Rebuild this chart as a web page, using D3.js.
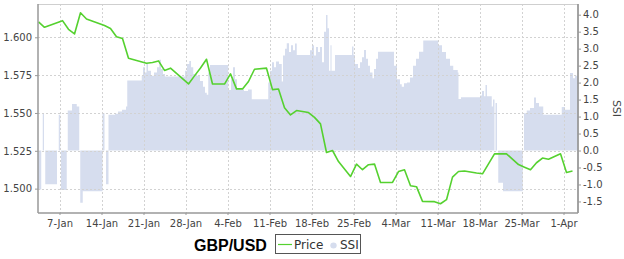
<!DOCTYPE html>
<html>
<head>
<meta charset="utf-8">
<script src="https://cdn.jsdelivr.net/npm/d3@7"></script>
<style>
  body { margin: 0; background: #fff; }
  svg { display: block; font-family: "DejaVu Sans", sans-serif; }
</style>
</head>
<body>
<div id="main"></div>
<script>
// GBP/USD daily price (value at noon UTC), 2013
const priceData = [
  ["01-03", 1.6102], ["01-04", 1.6066], ["01-07", 1.6110], ["01-08", 1.6053], ["01-09", 1.6022],
  ["01-10", 1.6162], ["01-11", 1.6121], ["01-14", 1.6078], ["01-15", 1.6058], ["01-16", 1.6004],
  ["01-17", 1.5992], ["01-18", 1.5861], ["01-21", 1.5828], ["01-22", 1.5834], ["01-23", 1.5844],
  ["01-24", 1.5781], ["01-25", 1.5796], ["01-28", 1.5692], ["01-29", 1.5745], ["01-30", 1.5797],
  ["01-31", 1.5855], ["02-01", 1.5691], ["02-03", 1.5691], ["02-04", 1.5758], ["02-05", 1.5659],
  ["02-06", 1.5659], ["02-07", 1.5708], ["02-08", 1.5789], ["02-10", 1.5796], ["02-11", 1.5654],
  ["02-12", 1.5658], ["02-13", 1.5535], ["02-14", 1.5487], ["02-15", 1.5516], ["02-17", 1.5503],
  ["02-18", 1.5471], ["02-19", 1.5428], ["02-20", 1.5239], ["02-21", 1.5252], ["02-22", 1.5179],
  ["02-24", 1.5080], ["02-25", 1.5162], ["02-26", 1.5125], ["02-27", 1.5158], ["02-28", 1.5162],
  ["03-01", 1.5041], ["03-03", 1.5041], ["03-04", 1.5113], ["03-05", 1.5125], ["03-06", 1.5019],
  ["03-07", 1.5013], ["03-08", 1.4916], ["03-10", 1.4914], ["03-11", 1.4900], ["03-12", 1.4927],
  ["03-13", 1.5076], ["03-14", 1.5113], ["03-15", 1.5117], ["03-17", 1.5103], ["03-18", 1.5098],
  ["03-19", 1.5164], ["03-20", 1.5230], ["03-21", 1.5230], ["03-22", 1.5230], ["03-24", 1.5159],
  ["03-25", 1.5142], ["03-26", 1.5125], ["03-27", 1.5171], ["03-28", 1.5202], ["03-29", 1.5194],
  ["03-31", 1.5230], ["04-01", 1.5107], ["04-02", 1.5116]
];

// SSI readings, "MM-DD HH" UTC, value held until next reading
const ssiData = [
  ["01-03 10", -1.15], ["01-03 23", 0], ["01-04 05", 1.1], ["01-04 10", 0], ["01-04 15", -0.99],
  ["01-06 14", 0], ["01-06 21", 1.05], ["01-07 03", 0], ["01-07 06", -1.16], ["01-08 05", 0],
  ["01-08 09", 1.18], ["01-09 02", 1.37], ["01-09 21", 1.3], ["01-10 07", 0], ["01-10 11", -1.54],
  ["01-10 21", -1.2], ["01-14 04", 1.1], ["01-14 12", 0], ["01-14 18", -0.99], ["01-15 04", 1.05],
  ["01-16 06", 1.08], ["01-16 18", 1.15], ["01-17 10", 1.2], ["01-18 02", 1.3], ["01-18 07", 2.06],
  ["01-20 17", 2.2], ["01-20 22", 2.45], ["01-21 06", 2.3], ["01-21 12", 2.57], ["01-21 18", 2.35],
  ["01-22 06", 2.2], ["01-22 18", 2.3], ["01-23 06", 2.45], ["01-23 15", 2.67], ["01-23 22", 2.4],
  ["01-24 06", 2.25], ["01-24 14", 2.18], ["01-27 22", 2.35], ["01-28 06", 2.55], ["01-28 15", 2.64],
  ["01-28 22", 2.45], ["01-29 07", 2.25], ["01-29 22", 2.2], ["01-30 10", 2.05], ["01-30 22", 1.88],
  ["01-31 06", 1.7], ["01-31 13", 1.64], ["01-31 19", 2.3], ["02-01 02", 2.52], ["02-04 03", 1.78],
  ["02-04 14", 2.1], ["02-04 22", 2.45], ["02-05 06", 2.1], ["02-05 14", 1.8], ["02-06 18", 1.75],
  ["02-07 10", 1.8], ["02-08 01", 1.51], ["02-10 19", 2.0], ["02-11 02", 2.35], ["02-11 10", 2.6],
  ["02-11 18", 2.45], ["02-12 02", 2.62], ["02-12 14", 2.55], ["02-13 01", 2.03], ["02-13 06", 2.8],
  ["02-13 14", 3.0], ["02-13 21", 3.16], ["02-14 06", 2.9], ["02-14 14", 3.1], ["02-14 22", 2.95],
  ["02-15 06", 3.15], ["02-15 13", 2.81], ["02-17 18", 2.95], ["02-18 02", 3.1], ["02-18 10", 2.8],
  ["02-18 18", 3.05], ["02-19 02", 2.9], ["02-19 10", 3.05], ["02-19 18", 2.6], ["02-20 02", 3.5],
  ["02-20 10", 3.99], ["02-20 16", 3.6], ["02-20 22", 2.35], ["02-21 04", 3.1], ["02-21 08", 2.35],
  ["02-21 22", 2.81], ["02-24 18", 3.06], ["02-25 00", 2.81], ["02-25 06", 2.55], ["02-25 18", 2.43],
  ["02-26 02", 2.6], ["02-26 10", 2.75], ["02-26 18", 2.96], ["02-27 02", 2.7], ["02-27 10", 2.5],
  ["02-27 18", 2.3], ["02-28 04", 2.13], ["02-28 10", 2.4], ["02-28 18", 2.7], ["03-01 02", 2.91],
  ["03-03 18", 2.5], ["03-04 06", 2.1], ["03-04 18", 1.95], ["03-05 01", 1.88], ["03-05 10", 1.98],
  ["03-05 22", 2.0], ["03-06 10", 2.15], ["03-06 22", 2.5], ["03-07 10", 2.7], ["03-07 22", 2.91],
  ["03-08 15", 3.24], ["03-11 03", 3.1], ["03-11 18", 2.9], ["03-12 10", 2.7], ["03-13 02", 2.5],
  ["03-13 15", 2.37], ["03-14 09", 2.3], ["03-14 12", 1.52], ["03-14 22", 1.57], ["03-18 02", 1.62],
  ["03-18 10", 1.75], ["03-18 18", 1.6], ["03-19 00", 1.93], ["03-19 06", 1.6], ["03-20 01", 1.3],
  ["03-20 06", 1.5], ["03-20 12", 0], ["03-20 16", 1.4], ["03-20 22", 0], ["03-21 03", -0.95],
  ["03-21 22", -1.2], ["03-25 05", 0], ["03-25 10", 1.1], ["03-25 21", 1.18], ["03-26 10", 1.25],
  ["03-27 02", 1.56], ["03-27 10", 1.4], ["03-27 22", 1.3], ["03-28 15", 1.05], ["03-31 17", 1.28],
  ["04-01 06", 1.2], ["04-02 02", 2.28], ["04-02 14", 2.13], ["04-02 22", 2.2], ["04-03 10", 2.13]
];

const priceTicks = [1.500, 1.525, 1.550, 1.575, 1.600];
const ssiTicks = [-1.5, -1.0, -0.5, 0.0, 0.5, 1.0, 1.5, 2.0, 2.5, 3.0, 3.5, 4.0];
const weekTicks = ["01-07", "01-14", "01-21", "01-28", "02-04", "02-11", "02-18", "02-25",
                   "03-04", "03-11", "03-18", "03-25", "04-01"];

const ctx = {
  w: 624, h: 259,
  left: 38, right: 578, top: 4, bottom: 213,
  PRICE_COLOR: "#55d12f",
  SSI_COLOR: "#d6ddee",
  GRID_COLOR: "#d2d2d2",
  AXIS_COLOR: "#999",
};

const parseHour = d3.utcParse("%Y-%m-%d %H");
const day = s => parseHour("2013-" + s + " 12");
const hour = s => parseHour("2013-" + s);
const weekDay = s => parseHour("2013-" + s + " 00");

function createViz() {
  const svg = d3.select("#main").append("svg")
    .attr("width", ctx.w).attr("height", ctx.h);

  const x = d3.scaleUtc()
    .domain([Date.UTC(2013, 0, 3, 10), Date.UTC(2013, 3, 3, 10)])
    .range([ctx.left, ctx.right]);
  const yP = d3.scaleLinear().domain([1.4839, 1.622]).range([ctx.bottom, ctx.top]);
  const yS = d3.scaleLinear().domain([-1.84, 4.315]).range([ctx.bottom, ctx.top]);

  svg.append("clipPath").attr("id", "plot")
    .append("rect")
    .attr("x", ctx.left).attr("y", ctx.top)
    .attr("width", ctx.right - ctx.left).attr("height", ctx.bottom - ctx.top);

  // SSI area behind everything
  const ssi = ssiData.map(d => ({ t: hour(d[0]), v: d[1] }));
  const area = d3.area().curve(d3.curveStepAfter)
    .x(d => x(d.t)).y0(yS(0)).y1(d => yS(d.v));
  svg.append("path")
    .attr("clip-path", "url(#plot)")
    .attr("d", area(ssi))
    .attr("fill", ctx.SSI_COLOR);

  // dotted grid on top of the area
  const grid = svg.append("g").attr("stroke", ctx.GRID_COLOR)
    .attr("stroke-dasharray", "2,2").attr("stroke-width", 1);
  grid.selectAll("line.h").data(priceTicks).enter().append("line")
    .attr("x1", ctx.left).attr("x2", ctx.right)
    .attr("y1", d => Math.round(yP(d)) + 0.5).attr("y2", d => Math.round(yP(d)) + 0.5);
  grid.selectAll("line.v").data(weekTicks).enter().append("line")
    .attr("y1", ctx.top).attr("y2", ctx.bottom)
    .attr("x1", d => Math.round(x(weekDay(d))) + 0.5).attr("x2", d => Math.round(x(weekDay(d))) + 0.5);

  // price line
  const price = priceData.map(d => ({ t: day(d[0]), v: d[1] }));
  const line = d3.line().x(d => x(d.t)).y(d => yP(d.v));
  svg.append("path")
    .attr("clip-path", "url(#plot)")
    .attr("d", line(price))
    .attr("fill", "none")
    .attr("stroke", ctx.PRICE_COLOR)
    .attr("stroke-width", 1.6)
    .attr("stroke-linejoin", "round");

  // frame
  svg.append("line").attr("x1", ctx.left).attr("x2", ctx.right)
    .attr("y1", ctx.top + 0.5).attr("y2", ctx.top + 0.5).attr("stroke", "#cfcfcf");
  svg.append("line").attr("x1", ctx.left).attr("x2", ctx.left)
    .attr("y1", ctx.top).attr("y2", ctx.bottom).attr("stroke", ctx.AXIS_COLOR).attr("stroke-width", 1.5);
  svg.append("line").attr("x1", ctx.right).attr("x2", ctx.right)
    .attr("y1", ctx.top).attr("y2", ctx.bottom).attr("stroke", ctx.AXIS_COLOR).attr("stroke-width", 1.8);
  svg.append("line").attr("x1", ctx.left).attr("x2", ctx.right)
    .attr("y1", ctx.bottom).attr("y2", ctx.bottom).attr("stroke", ctx.AXIS_COLOR).attr("stroke-width", 1.5);

  // axes
  const left = svg.append("g").attr("transform", `translate(${ctx.left},0)`)
    .call(d3.axisLeft(yP).tickValues(priceTicks).tickFormat(d3.format(".3f")).tickSize(3).tickPadding(3));
  const right = svg.append("g").attr("transform", `translate(${ctx.right},0)`)
    .call(d3.axisRight(yS).tickValues(ssiTicks).tickFormat(d => d.toFixed(1)).tickSize(3).tickPadding(2));
  const bottom = svg.append("g").attr("transform", `translate(0,${ctx.bottom})`)
    .call(d3.axisBottom(x).tickValues(weekTicks.map(weekDay))
      .tickFormat(d3.utcFormat("%-d-%b")).tickSize(2).tickPadding(5));
  [left, right, bottom].forEach(g => {
    g.select(".domain").remove();
    g.selectAll(".tick line").attr("stroke", ctx.AXIS_COLOR);
    g.selectAll("text").attr("fill", "#444")
      .style("font-family", "'DejaVu Sans', sans-serif").style("font-size", "10px");
  });

  svg.append("text")
    .attr("transform", `translate(612.5,${(ctx.top + ctx.bottom) / 2}) rotate(90)`)
    .attr("text-anchor", "middle")
    .attr("font-size", 11).attr("fill", "#444")
    .text("SSI");

  // title + legend
  svg.append("text")
    .attr("x", 194).attr("y", 250.5)
    .style("font-family", "'Liberation Sans', Arial, sans-serif")
    .style("font-weight", "bold").style("font-size", "16px")
    .attr("fill", "#000")
    .text("GBP/USD");

  const lg = svg.append("g");
  lg.append("rect").attr("x", 275.5).attr("y", 234.5).attr("width", 85).attr("height", 19)
    .attr("fill", "#fff").attr("stroke", "#555");
  lg.append("line").attr("x1", 278).attr("x2", 292).attr("y1", 244.5).attr("y2", 244.5)
    .attr("stroke", ctx.PRICE_COLOR).attr("stroke-width", 1.2);
  lg.append("text").attr("x", 294).attr("y", 249).attr("font-size", 12).attr("fill", "#333").text("Price");
  lg.append("ellipse").attr("cx", 333.5).attr("cy", 245.5).attr("rx", 3.2).attr("ry", 3)
    .attr("fill", ctx.SSI_COLOR);
  lg.append("text").attr("x", 340).attr("y", 249).attr("font-size", 12).attr("fill", "#333").text("SSI");
}

createViz();
</script>
</body>
</html>
